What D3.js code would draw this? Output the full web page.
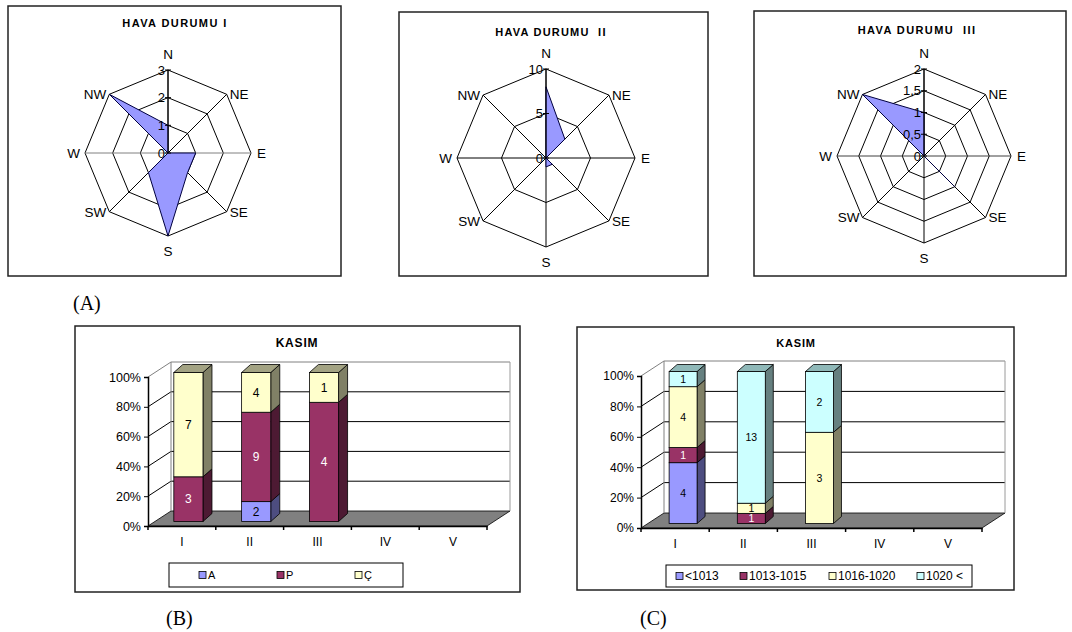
<!DOCTYPE html>
<html>
<head>
<meta charset="utf-8">
<script src="https://cdn.jsdelivr.net/npm/d3@7"></script>
<style>
  html, body { margin: 0; padding: 0; background: #fff; }
</style>
</head>
<body>
<svg id="chart" width="1072" height="632" font-family="'Liberation Sans', Arial, sans-serif"></svg>
<script>
// ---------------- DATA ----------------
const radarDirections = ["N", "NE", "E", "SE", "S", "SW", "W", "NW"];
const hava1Values = [1, 0, 1, 1, 3, 1, 0, 3];
const hava1Ticks = [0, 1, 2, 3];
const hava2Values = [8, 3, 0, 1, 1, 0, 0, 0];
const hava2Ticks = [0, 5, 10];
const hava3Values = [1, 0, 0, 1, 0, 0, 0, 2];
const hava3Ticks = [0, 0.5, 1, 1.5, 2];
const radarTitles = ["HAVA DURUMU I", "HAVA DURUMU  II", "HAVA DURUMU  III"];

const kasimCategories = ["I", "II", "III", "IV", "V"];
const percentTicks = [0, 0.2, 0.4, 0.6, 0.8, 1];
const kasimBSeries = ["A", "P", "Ç"];
const kasimB_A = [0, 2, 0, 0, 0];
const kasimB_P = [3, 9, 4, 0, 0];
const kasimB_C = [7, 4, 1, 0, 0];
const kasimCSeries = ["<1013", "1013-1015", "1016-1020", "1020 <"];
const kasimC_1 = [4, 0, 0, 0, 0];
const kasimC_2 = [1, 1, 0, 0, 0];
const kasimC_3 = [4, 1, 3, 0, 0];
const kasimC_4 = [1, 13, 2, 0, 0];
const chartTitle = "KASIM";
const panelLabels = ["(A)", "(B)", "(C)"];

// ---------------- STYLE ----------------
const colBlue = "#9999FF", colPlum = "#993366", colYellow = "#FFFFCC", colCyan = "#CCFFFF";
const sideColors = { "#9999FF": "#4D4D80", "#993366": "#4D1A33", "#FFFFCC": "#808066", "#CCFFFF": "#668080" };
const topColors  = { "#9999FF": "#7070B8", "#993366": "#6B2447", "#FFFFCC": "#A3A383", "#CCFFFF": "#8FB8B8" };

const svg = d3.select("#chart");

function frame(x, y, w, h) {
  svg.append("rect").attr("x", x).attr("y", y).attr("width", w).attr("height", h)
    .attr("fill", "#fff").attr("stroke", "#222").attr("stroke-width", 1.5);
}

function fmtTick(v) { return String(v).replace(".", ","); }

// ---------------- RADAR ----------------
function radar(cfg, values, ticks, title) {
  frame(cfg.box[0], cfg.box[1], cfg.box[2], cfg.box[3]);
  const g = svg.append("g").attr("transform", `translate(${cfg.cx},${cfg.cy})`);
  const r = d3.scaleLinear().domain([0, d3.max(ticks)]).range([0, cfg.r]);
  const ang = d3.scalePoint().domain(radarDirections).range([0, 2 * Math.PI * 7 / 8]);
  const pt = (d, v) => [Math.sin(ang(d)) * r(v), -Math.cos(ang(d)) * r(v)];
  const line = d3.line();

  ticks.filter(t => t > 0).forEach(t => {
    g.append("path").attr("d", line(radarDirections.map(d => pt(d, t))) + "Z")
      .attr("fill", "none").attr("stroke", "#000").attr("stroke-width", 1);
  });
  radarDirections.forEach(d => {
    const p = pt(d, d3.max(ticks));
    g.append("line").attr("x1", 0).attr("y1", 0).attr("x2", p[0]).attr("y2", p[1])
      .attr("stroke", (d === "E" || d === "W") ? cfg.ewColor : "#000").attr("stroke-width", 1);
  });
  g.append("path").attr("d", line(radarDirections.map((d, i) => pt(d, values[i]))) + "Z")
    .attr("fill", colBlue).attr("stroke", "#000040").attr("stroke-width", 1).attr("stroke-linejoin", "miter");
  g.append("line").attr("x1", 0).attr("y1", 0).attr("x2", 0).attr("y2", -cfg.r)
    .attr("stroke", "#000").attr("stroke-width", 1);
  ticks.forEach(t => {
    g.append("line").attr("x1", -3).attr("x2", 3).attr("y1", -r(t)).attr("y2", -r(t)).attr("stroke", "#000");
    g.append("text").attr("x", -3).attr("y", -r(t)).attr("dy", "0.36em").attr("text-anchor", "end")
      .attr("font-size", 13).attr("fill", "#000").text(fmtTick(t));
  });
  radarDirections.forEach(d => {
    const p = pt(d, d3.max(ticks));
    const sx = Math.round(Math.sin(ang(d)) * 100) / 100, sy = Math.round(-Math.cos(ang(d)) * 100) / 100;
    let x = p[0], y = p[1], anchor = "middle";
    if (sx > 0) { anchor = "start"; x += (sy === 0 ? 6 : 3); }
    if (sx < 0) { anchor = "end"; x -= (sy === 0 ? 5 : 3); }
    if (sx === 0 && sy < 0) { y -= 16; }
    if (sx === 0 && sy > 0) { y += 15; }
    g.append("text").attr("x", x).attr("y", y).attr("dy", "0.36em").attr("text-anchor", anchor)
      .attr("font-size", 13.5).attr("fill", "#000").text(d);
  });
  svg.append("text").attr("x", cfg.tx).attr("y", cfg.ty).attr("dy", "0.36em").attr("text-anchor", "middle")
    .attr("font-size", 11).attr("font-weight", "bold").attr("letter-spacing", cfg.tls).attr("fill", "#000")
    .attr("xml:space", "preserve").style("white-space", "pre").text(title);
}

radar({ box: [8, 6, 333, 270], cx: 168, cy: 153, r: 83, tx: 175, ty: 23, tls: 1.4, ewColor: "#808080" }, hava1Values, hava1Ticks, radarTitles[0]);
radar({ box: [399, 12, 309, 264], cx: 546, cy: 158, r: 89, tx: 551, ty: 32, tls: 1.2, ewColor: "#000" }, hava2Values, hava2Ticks, radarTitles[1]);
radar({ box: [754, 11, 312, 265], cx: 924, cy: 156, r: 87, tx: 917, ty: 30, tls: 1.4, ewColor: "#404040" }, hava3Values, hava3Ticks, radarTitles[2]);

// ---------------- 3D STACKED PERCENT BARS ----------------
function bars3d(cfg, seriesNames, seriesValues, colors) {
  frame(cfg.box[0], cfg.box[1], cfg.box[2], cfg.box[3]);
  const g = svg.append("g");
  const x = d3.scaleBand().domain(kasimCategories).range([cfg.x0, cfg.x1]).paddingInner(0).paddingOuter(0);
  const y = d3.scaleLinear().domain([0, 1]).range([cfg.y0, cfg.y1]);
  const [wdx, wdy] = cfg.wall;

  g.append("path").attr("d", d3.line()([[cfg.x0, y(0)], [cfg.x1, y(0)], [cfg.x1 + wdx, y(0) + wdy], [cfg.x0 + wdx, y(0) + wdy]]) + "Z")
    .attr("fill", "#808080").attr("stroke", "#000").attr("stroke-width", 0.8);
  percentTicks.forEach(t => {
    if (t === 0) return;
    const col = t === 1 ? "#808080" : "#000";
    g.append("line").attr("x1", cfg.x0).attr("y1", y(t)).attr("x2", cfg.x0 + wdx).attr("y2", y(t) + wdy)
      .attr("stroke", col).attr("stroke-width", 1);
    g.append("line").attr("x1", cfg.x0 + wdx).attr("y1", y(t) + wdy).attr("x2", cfg.x1 + wdx).attr("y2", y(t) + wdy)
      .attr("stroke", col).attr("stroke-width", 1);
  });
  g.append("line").attr("x1", cfg.x0 + wdx).attr("x2", cfg.x0 + wdx).attr("y1", y(0) + wdy).attr("y2", y(1) + wdy)
    .attr("stroke", "#808080");
  g.append("line").attr("x1", cfg.x1 + wdx).attr("x2", cfg.x1 + wdx).attr("y1", y(0) + wdy).attr("y2", y(1) + wdy)
    .attr("stroke", "#9a9a9a");

  const rows = kasimCategories.map((c, i) => {
    const o = { cat: c };
    seriesNames.forEach((s, k) => o[s] = seriesValues[k][i]);
    return o;
  });
  const stack = d3.stack().keys(seriesNames).offset(d3.stackOffsetExpand)(rows);
  const bw = x.bandwidth() * cfg.barFrac;
  const [bfx, bfy] = cfg.barShift, [bdx, bdy] = cfg.barDepth;
  const topIdx = rows.map((r, i) => {
    let last = -1;
    seriesNames.forEach((s, k) => { if (seriesValues[k][i] > 0) last = k; });
    return last;
  });
  stack.forEach((layer, k) => {
    const col = colors[k];
    layer.forEach((seg, i) => {
      const v = seriesValues[k][i];
      if (!v) return;
      const xl = x(kasimCategories[i]) + x.bandwidth() / 2 + bfx - bw / 2, xr = xl + bw;
      const yb = y(seg[0]) + bfy, yt = y(seg[1]) + bfy;
      g.append("path").attr("d", d3.line()([[xr, yb], [xr + bdx, yb + bdy], [xr + bdx, yt + bdy], [xr, yt]]) + "Z")
        .attr("fill", sideColors[col]).attr("stroke", "#000").attr("stroke-width", 0.8);
      g.append("rect").attr("x", xl).attr("y", yt).attr("width", bw).attr("height", yb - yt)
        .attr("fill", col).attr("stroke", "#000").attr("stroke-width", 0.8);
      if (topIdx[i] === k) {
        g.append("path").attr("d", d3.line()([[xl, yt], [xl + bdx, yt + bdy], [xr + bdx, yt + bdy], [xr, yt]]) + "Z")
          .attr("fill", topColors[col]).attr("stroke", "#000").attr("stroke-width", 0.8);
      }
      g.append("text").attr("x", (xl + xr) / 2).attr("y", (yb + yt) / 2).attr("dy", "0.36em")
        .attr("text-anchor", "middle").attr("font-size", cfg.valueFont)
        .attr("fill", col === colPlum ? "#fff" : "#000").text(v);
    });
  });

  const yAxis = d3.axisLeft(y).tickValues(percentTicks).tickFormat(d3.format(".0%")).tickSize(4).tickPadding(3);
  const ya = g.append("g").attr("transform", `translate(${cfg.x0},0)`).call(yAxis);
  ya.select(".domain").attr("stroke", "#000").attr("stroke-width", 1.5);
  ya.selectAll("text").attr("font-size", cfg.yFont).attr("fill", "#000")
    .attr("font-family", "'Liberation Sans', Arial, sans-serif");
  const xAxis = d3.axisBottom(x).tickSize(0).tickPadding(11);
  const xa = g.append("g").attr("transform", `translate(0,${cfg.y0})`).call(xAxis);
  xa.select(".domain").attr("stroke", "#000").attr("stroke-width", 1.5);
  xa.selectAll("text").attr("font-size", 12).attr("fill", "#000").attr("font-family", "'Liberation Sans', Arial, sans-serif");
  const bounds = kasimCategories.map(c => x(c)).concat([cfg.x1]);
  bounds.forEach(b => xa.append("line").attr("x1", b).attr("x2", b).attr("y1", 0).attr("y2", 4).attr("stroke", "#000").attr("stroke-width", 1.5));

  svg.append("text").attr("x", cfg.tx).attr("y", cfg.ty).attr("dy", "0.36em").attr("text-anchor", "middle")
    .attr("font-size", cfg.titleFont).attr("font-weight", "bold").attr("letter-spacing", 0.8).attr("fill", "#000").text(chartTitle);

  const [lx, ly, lw, lh] = cfg.legend;
  svg.append("rect").attr("x", lx).attr("y", ly).attr("width", lw).attr("height", lh)
    .attr("fill", "#fff").attr("stroke", "#000").attr("stroke-width", 1);
  seriesNames.forEach((s, k) => {
    const sx = cfg.legendX[k];
    svg.append("rect").attr("x", sx).attr("y", ly + lh / 2 - 3.5).attr("width", 7).attr("height", 7)
      .attr("fill", colors[k]).attr("stroke", "#000").attr("stroke-width", 0.8);
    svg.append("text").attr("x", sx + 9).attr("y", ly + lh / 2).attr("dy", "0.36em")
      .attr("font-size", cfg.legendFont).attr("fill", "#000").text(s);
  });
}

bars3d({
  box: [75, 326, 445, 266], x0: 148, x1: 487, y0: 526, y1: 377, wall: [23, -15],
  barFrac: 0.43, barShift: [6.5, -4.5], barDepth: [9, -8], yFont: 12.5, valueFont: 12,
  tx: 297, ty: 343, titleFont: 12,
  legend: [169, 563, 234, 24], legendX: [199, 277, 355], legendFont: 11
}, kasimBSeries, [kasimB_A, kasimB_P, kasimB_C], [colBlue, colPlum, colYellow]);

bars3d({
  box: [577, 327, 437, 263], x0: 641, x1: 982, y0: 528, y1: 376, wall: [23, -15],
  barFrac: 0.41, barShift: [8, -4.5], barDepth: [8, -7], yFont: 12, valueFont: 10.5,
  tx: 796, ty: 343, titleFont: 11,
  legend: [666, 565, 306, 22], legendX: [676, 740, 829, 917], legendFont: 12
}, kasimCSeries, [kasimC_1, kasimC_2, kasimC_3, kasimC_4], [colBlue, colPlum, colYellow, colCyan]);

const panelPos = [[73, 303], [166, 618], [640, 618]];
panelLabels.forEach((t, i) => {
  svg.append("text").attr("x", panelPos[i][0]).attr("y", panelPos[i][1]).attr("dy", "0.36em")
    .attr("font-family", "'Liberation Serif', 'Times New Roman', serif").attr("font-size", 20)
    .attr("fill", "#000").text(t);
});
</script>
</body>
</html>
